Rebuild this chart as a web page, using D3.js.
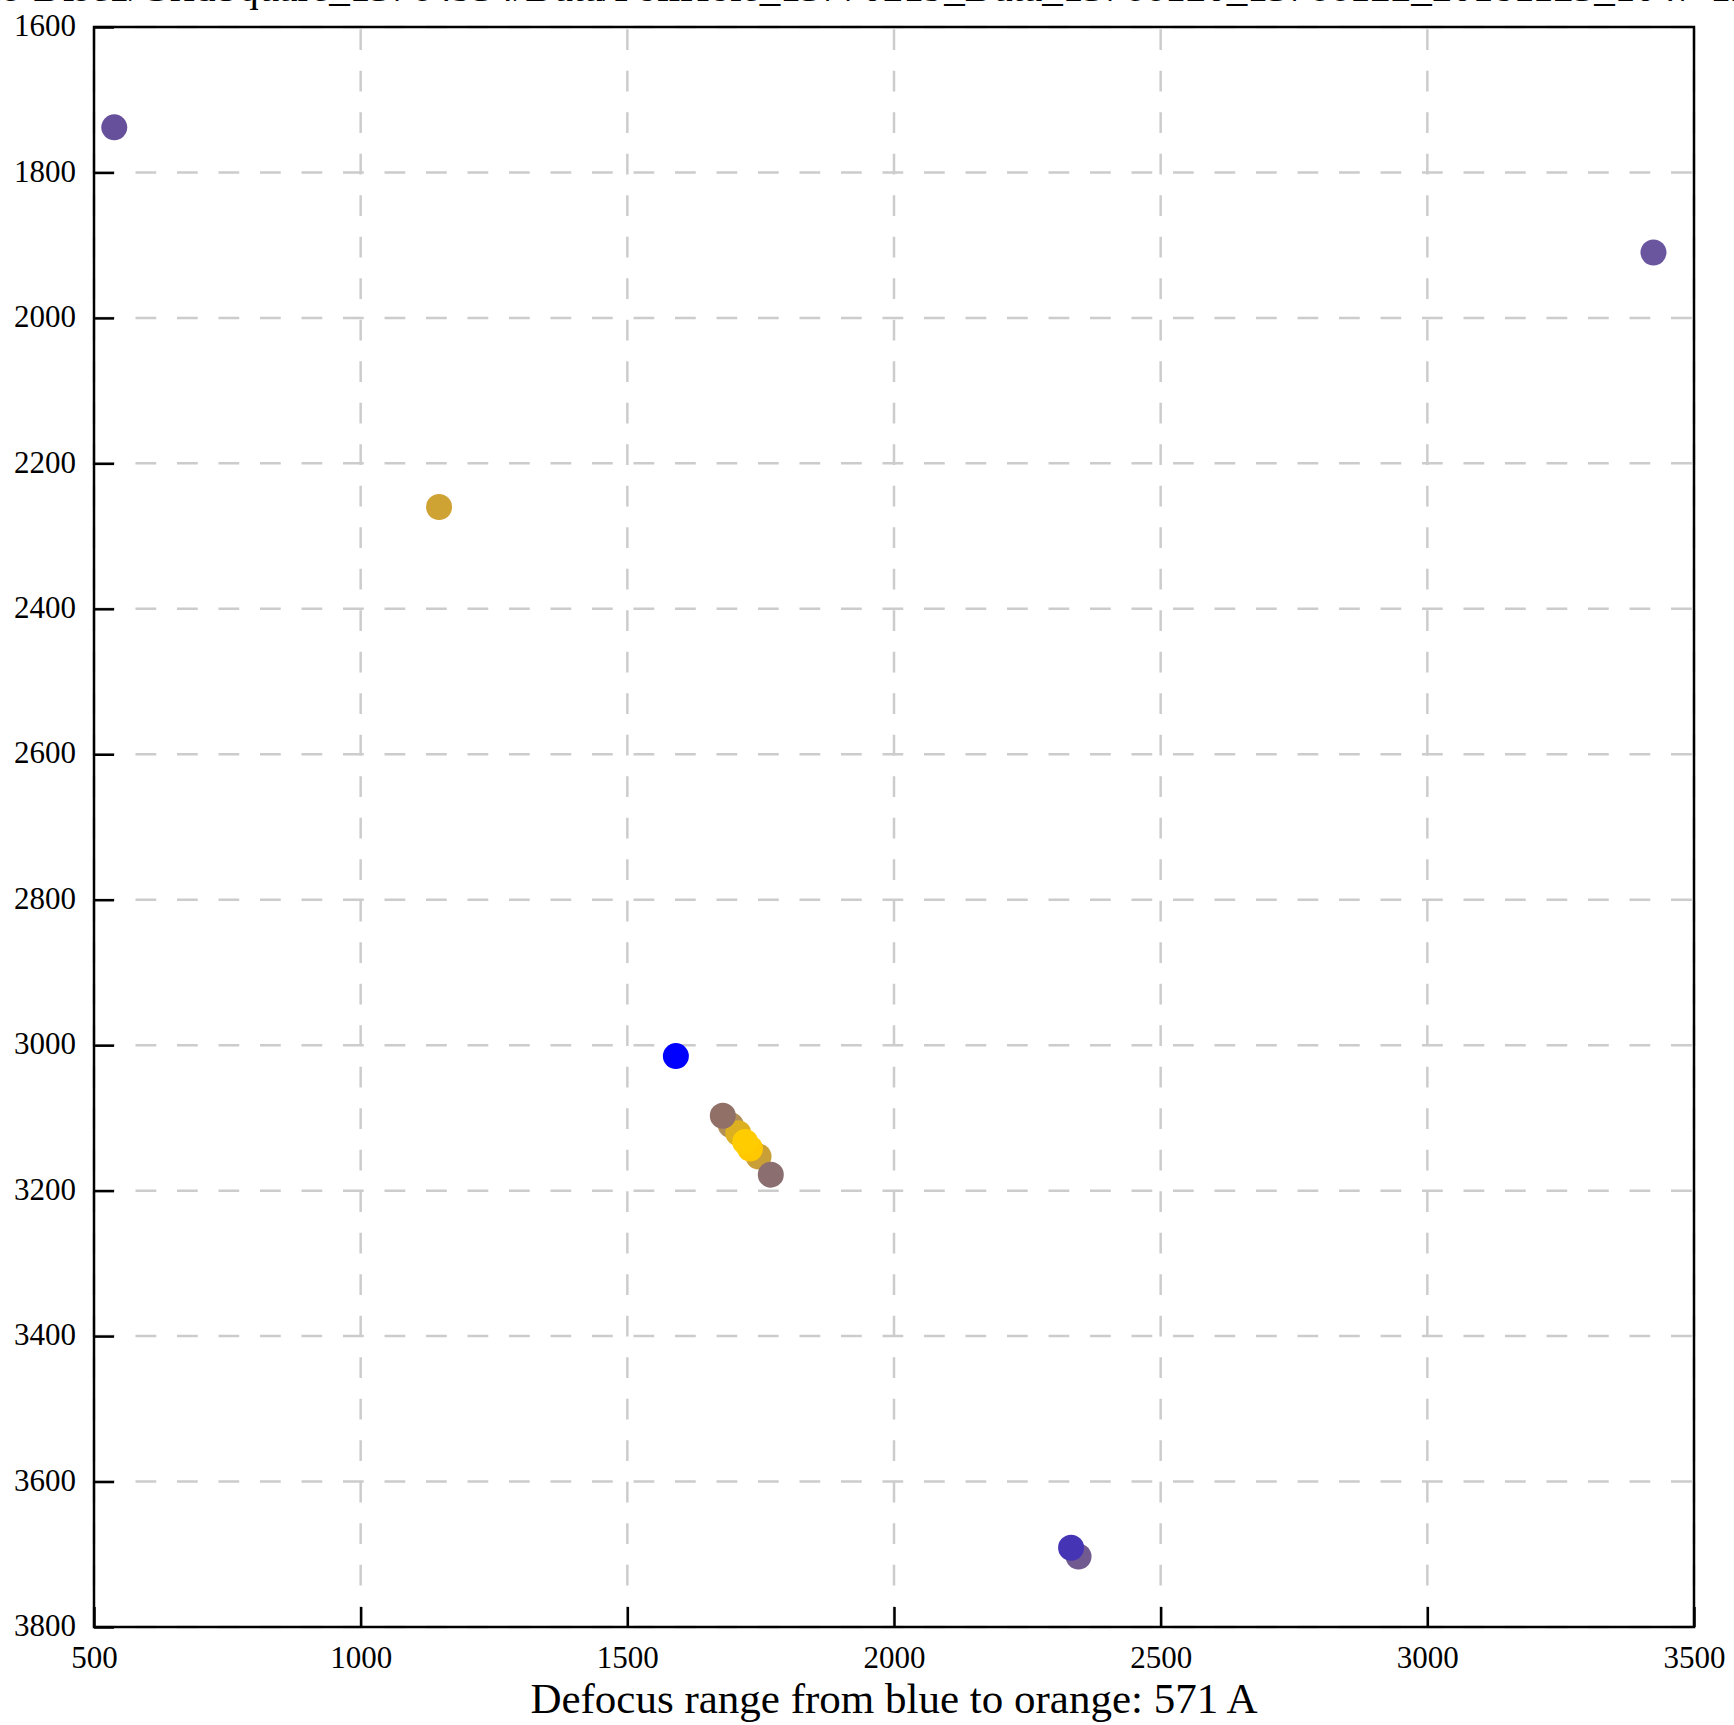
<!DOCTYPE html>
<html>
<head>
<meta charset="utf-8">
<script src="https://cdn.jsdelivr.net/npm/d3@7"></script>
<style>
html, body { margin: 0; padding: 0; background: #ffffff; }
svg { display: block; }
</style>
</head>
<body>
<svg id="chart" width="1734" height="1725"></svg>
<script>
// ---- data ----
const titleText = "Images-Disc1/GridSquare_13764934/Data/FoilHole_13770219_Data_13766120_13766122_20181123_1047-12345.mrc";
const xLabel = "Defocus range from blue to orange: 571 A";
const xTickValues = [500, 1000, 1500, 2000, 2500, 3000, 3500];
const yTickValues = [1600, 1800, 2000, 2200, 2400, 2600, 2800, 3000, 3200, 3400, 3600, 3800];
const defocusU = [538, 3424, 1147, 2346, 2332, 1591, 1746, 1694, 1708, 1730, 1721, 1679, 1769];
const defocusV = [1738, 1910, 2260, 3703, 3691, 3015, 3153, 3110, 3121, 3142, 3133, 3097, 3178];
const pointColors = ["#66509c", "#6a559f", "#cfa234", "#705a90", "#4535b5", "#0000ff",
                     "#c9a038", "#b28f55", "#dcb020", "#ffc800", "#ffcc00", "#917068", "#8b6e70"];

// ---- layout ----
const svg = d3.select("#chart");
const L = 94, R = 1694, T = 27, B = 1627;
const x = d3.scaleLinear().domain([500, 3500]).range([L, R]);
const y = d3.scaleLinear().domain([1600, 3800]).range([T, B]);
const fontFam = "'Liberation Serif', 'Times New Roman', serif";

// grid
const grid = svg.append("g");
grid.selectAll("line.v").data(xTickValues).enter().append("line")
  .attr("x1", d => x(d)).attr("x2", d => x(d))
  .attr("y1", B).attr("y2", T)
  .attr("stroke", "#cccccc").attr("stroke-width", 2.5)
  .attr("stroke-dasharray", "20.75,20.75");
grid.selectAll("line.h").data(yTickValues).enter().append("line")
  .attr("x1", L).attr("x2", R)
  .attr("y1", d => y(d)).attr("y2", d => y(d))
  .attr("stroke", "#cccccc").attr("stroke-width", 2.5)
  .attr("stroke-dasharray", "20.75,20.75");

// points
svg.append("g").selectAll("circle").data(defocusU.map((u, i) => i)).enter().append("circle")
  .attr("cx", i => x(defocusU[i]))
  .attr("cy", i => y(defocusV[i]))
  .attr("r", 13)
  .attr("fill", i => pointColors[i]);

// axes
const xAxis = svg.append("g").attr("transform", `translate(0,${B})`)
  .call(d3.axisBottom(x).tickValues(xTickValues).tickSize(-20).tickPadding(0).tickFormat(d3.format("d")));
const yAxis = svg.append("g").attr("transform", `translate(${L},0)`)
  .call(d3.axisLeft(y).tickValues(yTickValues).tickSize(-20).tickPadding(0).tickFormat(d3.format("d")));
[xAxis, yAxis].forEach(a => {
  a.select(".domain").remove();
  a.selectAll(".tick line").attr("stroke", "#000").attr("stroke-width", 2.5);
  a.selectAll(".tick text").attr("font-family", fontFam).attr("font-size", 31).attr("fill", "#000");
});
xAxis.selectAll(".tick text").attr("y", 41).attr("dy", 0).attr("text-anchor", "middle");
yAxis.selectAll(".tick text").attr("x", -18).attr("dy", "0.28em").attr("text-anchor", "end");

// frame
svg.append("rect").attr("x", L).attr("y", T).attr("width", R - L).attr("height", B - T)
  .attr("fill", "none").attr("stroke", "#000").attr("stroke-width", 2.5);

// labels
svg.append("text").attr("x", (L + R) / 2).attr("y", 1713)
  .attr("text-anchor", "middle").attr("font-family", fontFam).attr("font-size", 43)
  .text(xLabel);
svg.append("text").attr("x", (L + R) / 2).attr("y", 1)
  .attr("text-anchor", "middle").attr("font-family", fontFam).attr("font-size", 41)
  .text(titleText);
</script>
</body>
</html>
